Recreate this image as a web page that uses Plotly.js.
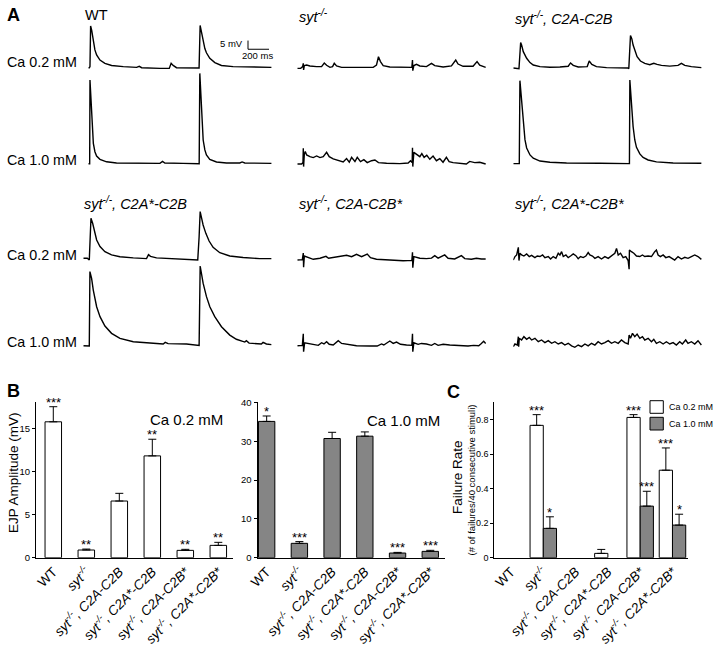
<!DOCTYPE html>
<html><head><meta charset="utf-8">
<script src="https://cdn.plot.ly/plotly-3.0.1.min.js"></script>
<style>html,body{margin:0;padding:0;background:#fff}#chart{width:714px;height:655px}</style>
</head><body><div id="chart"></div>
<script>
// ===== Panel A: EJP traces, time (ms) / potential (mV above baseline) =====
const wt02_t = [0,10,16,22,32,48,63,79,111,158,222,333,460,485,508,682,771,789,808,840,935,1046,1055,1065,1078,1094,1110,1125,1157,1205,1268,1379,1506,1569,1600,1744];
const wt02_v = [0,0,0.6,24,21.6,15,10.2,7.3,4.4,2.5,1.3,0.6,0.2,0.8,0,-0.4,-0.4,2.5,1.3,0,-0.2,-0.2,-0.2,24.3,20.7,15,11,8.6,5.4,2.9,1.3,0.6,0.4,0.6,0.4,0.2];
const wt10_t = [0,10,13,16,25,35,48,63,79,111,174,269,428,682,707,729,903,1046,1056,1062,1071,1081,1094,1110,1125,1157,1221,1316,1443,1465,1490,1744];
const wt10_v = [0,0,0,48.1,36.6,21.3,11.7,6.9,4.4,2.5,1.1,0.4,0.2,0.2,1.3,0.4,0.2,0,0,51.9,38.5,23.2,13.6,7.9,5,2.5,1,0.4,0.4,1,0.4,0.2];
const syt02_t = [0,32,51,57,60,67,89,120,184,231,257,279,311,336,352,374,422,565,723,754,773,792,818,881,1040,1091,1097,1100,1110,1135,1167,1230,1278,1309,1389,1468,1509,1531,1579,1674,1712,1737,1794];
const syt02_v = [-0.8,-0.8,0.2,2.1,-1.7,0.8,1.1,0.6,0.2,0.2,2.3,1,-0.2,0.2,2.1,0.6,-0.2,-0.4,-0.2,1.1,5.9,3.1,0.8,0,0,-0.2,4,-2.1,0.8,1.5,0.6,0.2,2.1,0.8,0,0.6,4,1.7,0.4,0.4,3.1,1.1,-0.2];
const syt10_t = [0,41,54,57,60,67,76,89,120,152,184,216,247,279,304,342,390,437,469,495,517,549,571,602,634,666,707,739,773,850,976,1056,1078,1094,1097,1100,1110,1135,1167,1186,1208,1233,1262,1293,1325,1357,1388,1420,1446,1484,1563,1610,1642,1690,1737,1794];
const syt10_v = [-0.4,-0.4,0.4,8.6,-1.9,5.4,6.7,4.8,3.8,3.3,4.2,3.3,3.8,6.3,3.8,2.5,1.5,0.8,2.7,0.6,3.4,1,3.4,1,2.1,0.4,1.5,1.9,0.4,0,-0.2,0.2,1.5,0.4,9,-1.9,6.3,5.2,3.8,5.6,3.4,4.6,2.3,4.2,1.5,2.7,0.6,3.4,1,0.4,0,-0.4,1.1,0.4,0.6,-0.4];
const ab02_t = [0,48,54,70,79,95,127,159,190,254,349,444,523,545,571,618,704,723,748,792,888,1090,1100,1116,1129,1141,1157,1179,1211,1252,1300,1338,1369,1411,1490,1569,1601,1633,1696,1791];
const ab02_v = [0,0,-0.4,14.6,13.2,9.4,5.6,3.1,1.7,0.8,0.4,0.6,1,2.9,1.5,0.6,0.8,4,2.1,0.8,0.2,0,-0.4,18.6,16.7,13.2,9.8,6.5,4,2.7,1.9,2.7,2.1,1.5,1.1,1.5,2.7,1.5,0.8,0.2];
const ab10_t = [0,51,57,63,73,82,95,111,127,159,190,254,349,507,824,1100,1106,1110,1119,1129,1141,1157,1173,1205,1236,1284,1363,1522,1791];
const ab10_v = [-0.2,-0.2,-0.2,47.5,40.2,30.6,21.3,13.6,8.8,4.8,2.9,1.3,0.6,0.2,0,-0.2,-0.2,47.9,40.2,30.6,21.1,13.4,9.2,5.4,3.4,1.9,0.8,0.2,0];
const asb02_t = [0,38,57,63,73,89,105,127,159,206,269,349,476,602,621,640,697,856,983,1090,1103,1113,1125,1141,1167,1198,1236,1300,1395,1522,1680,1791];
const asb02_v = [0.6,0.6,-0.4,11.1,23.6,20.7,15.9,11.1,7.3,4.4,2.5,1.5,0.8,0.4,2.7,1.7,0.8,0.2,-0.2,-0.4,13,27.4,24.1,19.7,14.9,10.5,6.9,3.8,1.9,1,0.4,0.4];
const asb10_t = [0,51,57,63,79,95,127,159,206,269,349,476,634,761,780,808,983,1090,1103,1113,1125,1141,1173,1205,1252,1316,1395,1458,1538,1553,1579,1696,1712,1744,1791];
const asb10_v = [-0.4,-0.4,-0.6,42.2,38.3,31.6,22,16.3,10.9,6.7,3.8,1.9,1,0.6,1.5,0.8,0.6,-0.2,-0.2,45.4,41.2,35.5,27.8,22,16.3,10.5,5.7,3.3,1.7,2.5,1.1,0.6,1.5,0.6,0.2];
const abs02_t = [0,48,57,60,67,105,152,216,254,273,298,374,469,517,564,612,666,697,754,881,1008,1091,1097,1100,1110,1167,1230,1278,1309,1341,1404,1436,1499,1563,1595,1658,1706,1753,1794];
const abs02_v = [0,0.2,4,-4.2,2.3,1.3,0.4,1,1.7,2.1,1,1.9,2.7,1.9,3.3,1.9,3.4,1.3,0.4,0,-0.4,-0.2,4.4,-4.4,1.9,1,0.8,1.1,2.5,1.1,2.9,1,0.6,2.5,0.8,0.4,1,0.6,0.6];
const abs10_t = [0,48,57,60,70,120,159,200,231,254,279,304,342,390,422,469,564,691,761,802,824,881,913,945,983,1040,1091,1097,1100,1110,1151,1182,1230,1278,1309,1341,1389,1452,1531,1626,1680,1728,1753,1775,1794];
const abs10_v = [0,0.2,6.9,-3.4,1.7,1,0.8,0.2,1.7,1,2.3,0.8,0.4,2.9,1.3,0.8,0,-0.2,-0.2,1,0.4,2.7,1.3,2.1,0.8,0.4,0.2,6.9,-3.4,1.7,0.8,1.3,1,0.2,1.3,0.2,0.8,0.4,0,-0.2,0.2,0,1.3,2.5,1.3];
const asbs02_t = [0,16,32,48,54,63,79,101,127,152,174,206,228,254,279,301,333,355,380,406,428,444,460,476,501,523,545,571,596,618,640,666,691,713,729,754,777,808,840,872,904,935,967,983,999,1021,1046,1071,1094,1103,1106,1125,1148,1173,1205,1230,1252,1284,1316,1347,1363,1379,1401,1427,1452,1484,1506,1537,1569,1601,1633,1664,1696,1728,1759,1791];
const asbs02_v = [-1,1,1.9,6.3,-1.3,2.9,1.9,1.3,2.5,1,1.7,0.4,1.3,1,1.9,0.4,1,-0.4,1,0,2.9,1.9,3.8,1,1.9,0.4,1.3,2.5,1.5,-0.2,1,0.4,1.3,3.3,1.9,1.3,0,1,-0.4,1,0,1.3,2.9,5.7,1.9,2.9,0.4,1,-1.3,-6.3,4.8,3.8,2.9,1.3,1,1.9,1,1.3,1,3.8,4.8,1.9,1,1.9,0.4,1,0,-1,1,-0.4,0.6,0,1,1.9,1,-0.6];
const asbs10_t = [0,16,38,48,51,57,79,101,127,152,174,206,238,269,301,333,365,396,428,460,491,523,555,586,618,650,682,713,745,777,808,840,872,904,935,967,999,1030,1062,1094,1103,1116,1135,1157,1179,1205,1230,1252,1284,1316,1338,1363,1395,1427,1458,1490,1522,1553,1585,1610,1642,1664,1696,1728,1759,1791];
const asbs10_v = [-1.5,0,-0.6,4.2,-1.5,3.3,2.3,4.2,2.7,3.8,2.3,3.3,1.3,2.3,0.8,1.9,0.4,1.3,0,0.8,-0.6,0.4,-1.1,-1.9,-0.6,-1.5,0,-1.1,0.4,-0.6,1.3,0,0.8,1.9,0.4,1.3,0.4,2.3,0.8,0,5.2,3.3,6.1,4.2,5.7,3.3,4.2,2.3,3.3,1.3,2.7,0.4,1.3,0,1.3,0,0.8,-0.6,1.3,0,2.3,0.4,1.3,0,1.9,-0.6];

const traceTitles = ['WT', '<i>syt<sup>-/-</sup></i>', '<i>syt<sup>-/-</sup>, C2A-C2B</i>',
  '<i>syt<sup>-/-</sup>, C2A*-C2B</i>', '<i>syt<sup>-/-</sup>, C2A-C2B*</i>', '<i>syt<sup>-/-</sup>, C2A*-C2B*</i>'];
const caLabels = ['Ca 0.2 mM', 'Ca 1.0 mM'];
// scale bar: 200 ms, 5 mV
const scaleT = 200, scaleV = 5, scaleT0 = 1521, scaleV0 = 10.6;

// ===== Panels B & C =====
const genotypes = ['WT', '<i>syt<sup>-/-</sup></i>', '<i>syt<sup>-/-</sup>, C2A-C2B</i>',
  '<i>syt<sup>-/-</sup>, C2A*-C2B</i>', '<i>syt<sup>-/-</sup>, C2A-C2B*</i>', '<i>syt<sup>-/-</sup>, C2A*-C2B*</i>'];
const ejp02 = [15.75, 0.89, 6.57, 11.8, 0.85, 1.43];
const ejp02Err = [1.75, 0.11, 0.89, 1.93, 0.12, 0.35];
const ejp10 = [35.1, 3.7, 30.7, 31.3, 1.2, 1.63];
const ejp10Err = [1.4, 0.45, 1.6, 1.1, 0.17, 0.27];
const fail02 = [0, 0.767, 0, 0.025, 0.813, 0.507];
const fail02Err = [0, 0.062, 0, 0.023, 0.016, 0.129];
const fail10 = [0, 0.17, 0, 0, 0.299, 0.189];
const fail10Err = [0, 0.067, 0, 0, 0.086, 0.063];
const ejp02Stars = ['***', '**', '', '**', '**', '**'];
const ejp10Stars = ['*', '***', '', '', '***', '***'];
const fail02Stars = ['', '***', '', '', '***', '***'];
const fail10Stars = ['', '*', '', '', '***', '*'];

// ===== layout helpers =====
const W = 714, H = 655;
const FONT = 'Liberation Sans, Arial, sans-serif';
const PX_PER_MS = 0.105, PX_PER_MV = 1.74, SPAN_MS = 1800;
const px = x => x / W, py = y => 1 - y / H;
const GRAY = '#858585';

const sets = [
  {t: wt02_t, v: wt02_v, left: 88.3, base: 67.7, row: 0},
  {t: wt10_t, v: wt10_v, left: 88.3, base: 163.7, row: 1},
  {t: syt02_t, v: syt02_v, left: 297.3, base: 67, row: 0},
  {t: syt10_t, v: syt10_v, left: 297.3, base: 163.3, row: 1},
  {t: ab02_t, v: ab02_v, left: 513.3, base: 68, row: 0},
  {t: ab10_t, v: ab10_v, left: 513.3, base: 163.3, row: 1},
  {t: asb02_t, v: asb02_v, left: 83.3, base: 259.3, row: 2},
  {t: asb10_t, v: asb10_v, left: 83.3, base: 345, row: 3},
  {t: abs02_t, v: abs02_v, left: 297.3, base: 260, row: 2},
  {t: abs10_t, v: abs10_v, left: 297.3, base: 345.7, row: 3},
  {t: asbs02_t, v: asbs02_v, left: 513.3, base: 258.3, row: 2},
  {t: asbs10_t, v: asbs10_v, left: 513.3, base: 344, row: 3}
];
const rowRange = [[-3, 26], [-4, 54], [-8, 30], [-6, 48]];

const data = [];
const layout = {
  width: W, height: H, margin: {l: 0, r: 0, t: 0, b: 0},
  paper_bgcolor: '#fff', plot_bgcolor: 'rgba(0,0,0,0)',
  showlegend: false, barmode: 'overlay',
  font: {family: FONT, color: '#000'},
  annotations: [], shapes: []
};
const ax = n => (n === 1 ? '' : String(n));

sets.forEach((s, i) => {
  const n = i + 1;
  const [lo, hi] = rowRange[s.row];
  data.push({type: 'scatter', mode: 'lines', x: s.t, y: s.v, xaxis: 'x' + ax(n), yaxis: 'y' + ax(n),
    line: {color: '#000', width: 1.4}, hoverinfo: 'skip'});
  layout['xaxis' + ax(n)] = {domain: [px(s.left), px(s.left + SPAN_MS * PX_PER_MS)], range: [0, SPAN_MS],
    visible: false, fixedrange: true, anchor: 'y' + ax(n)};
  layout['yaxis' + ax(n)] = {domain: [py(s.base - lo * PX_PER_MV), py(s.base - hi * PX_PER_MV)], range: [lo, hi],
    visible: false, fixedrange: true, anchor: 'x' + ax(n)};
});

// scale bar in WT 0.2 mM subplot
layout.shapes.push({type: 'line', xref: 'x', yref: 'y', x0: scaleT0, x1: scaleT0, y0: scaleV0, y1: scaleV0 + scaleV, line: {color: '#000', width: 1}});
layout.shapes.push({type: 'line', xref: 'x', yref: 'y', x0: scaleT0, x1: scaleT0 + scaleT, y0: scaleV0, y1: scaleV0, line: {color: '#000', width: 1}});

function ann(text, x, y, opts) {
  layout.annotations.push(Object.assign({text, x: px(x), y: py(y), xref: 'paper', yref: 'paper',
    showarrow: false, xanchor: 'left', yanchor: 'middle', font: {family: FONT, size: 14, color: '#000'}}, opts || {}));
}
ann(scaleV + ' mV', 245, 43.7, {xanchor: 'right', font: {family: FONT, size: 9.5}});
ann(scaleT + ' ms', 257.5, 56, {xanchor: 'center', font: {family: FONT, size: 9.5}});

// panel A labels
ann('<b>A</b>', 13, 15, {xanchor: 'center', font: {family: FONT, size: 18}});
ann('<b>B</b>', 13.3, 391, {xanchor: 'center', font: {family: FONT, size: 18}});
ann('<b>C</b>', 453, 391.5, {xanchor: 'center', font: {family: FONT, size: 18}});
[[62, 0], [159.5, 1], [255, 0], [341.7, 1]].forEach(([y, k]) => ann(caLabels[k], 5, y, {font: {family: FONT, size: 14.3}}));
const titlePos = [[82.5, 15], [297, 16], [513, 18.3], [81.5, 203.3], [297, 203.3], [513, 203.3]];
traceTitles.forEach((t, i) => ann(t, titlePos[i][0], titlePos[i][1], {font: {family: FONT, size: 14.5}}));

// ===== bar chart axes =====
const barY = [py(557.7), py(402.4)];
const tickFont = {family: FONT, size: 13.5, color: '#000'};
function xAx(l, r, lo, hi, anchor) {
  return {domain: [px(l), px(r)], range: [lo, hi], type: 'category', anchor, showline: true, linecolor: '#000', linewidth: 1,
    ticks: '', tickangle: -45, tickfont: tickFont, showgrid: false, zeroline: false, fixedrange: true};
}
function yAx(range, dtick, anchor, size) {
  return {domain: barY, range, dtick, tick0: 0, anchor, showline: true, linecolor: '#000', linewidth: 1, ticks: 'outside',
    ticklen: 3, tickcolor: '#000', tickwidth: 1, tickangle: 0, tickfont: {family: FONT, size, color: '#000'}, showgrid: false,
    zeroline: false, fixedrange: true};
}
layout.xaxis13 = xAx(36, 233, -0.524, 5.445, 'y13');
layout.yaxis13 = yAx([0, 18], 5, 'x13', 9.5);
layout.xaxis14 = xAx(257.5, 445, -0.28, 5.45, 'y14');
layout.yaxis14 = yAx([0, 40], 10, 'x14', 9.5);
layout.xaxis15 = xAx(494.3, 688.3, -0.517, 5.49, 'y15');
layout.yaxis15 = yAx([0, 0.9], 0.2, 'x15', 9);

const zeros = genotypes.map(() => 0);
const shown = arr => arr.map(v => (v === 0 ? null : v));   // a zero rate draws no bar
const errBar = (arr) => ({type: 'data', symmetric: false, array: arr, arrayminus: zeros, color: '#000', thickness: 1, width: 4});
const BW = 0.5, CW = 0.41;
data.push({type: 'bar', x: genotypes, y: ejp02, width: BW, xaxis: 'x13', yaxis: 'y13', marker: {color: '#fff', line: {color: '#000', width: 1}}, error_y: errBar(ejp02Err), hoverinfo: 'skip'});
data.push({type: 'bar', x: genotypes, y: ejp10, width: BW, xaxis: 'x14', yaxis: 'y14', marker: {color: GRAY, line: {color: '#000', width: 1}}, error_y: errBar(ejp10Err), hoverinfo: 'skip'});
data.push({type: 'bar', x: genotypes, y: shown(fail02), width: CW, offset: -CW, xaxis: 'x15', yaxis: 'y15', marker: {color: '#fff', line: {color: '#000', width: 1}}, error_y: errBar(fail02Err), hoverinfo: 'skip'});
data.push({type: 'bar', x: genotypes, y: shown(fail10), width: CW, offset: 0, xaxis: 'x15', yaxis: 'y15', marker: {color: GRAY, line: {color: '#000', width: 1}}, error_y: errBar(fail10Err), hoverinfo: 'skip'});

function stars(labels, vals, errs, xref, yref, dx) {
  labels.forEach((s, i) => {
    if (!s) return;
    layout.annotations.push({text: s, x: i + dx, y: vals[i] + errs[i], xref, yref, showarrow: false,
      xanchor: 'center', yanchor: 'bottom', yshift: -5, font: {family: FONT, size: 13, color: '#000'}});
  });
}
stars(ejp02Stars, ejp02, ejp02Err, 'x13', 'y13', 0);
stars(ejp10Stars, ejp10, ejp10Err, 'x14', 'y14', 0);
stars(fail02Stars, fail02, fail02Err, 'x15', 'y15', -CW / 2);
stars(fail10Stars, fail10, fail10Err, 'x15', 'y15', CW / 2);

ann(caLabels[0], 148, 419.3, {font: {family: FONT, size: 15}});
ann(caLabels[1], 365, 420, {font: {family: FONT, size: 15}});
ann('EJP Amplitude (mV)', 13, 473, {xanchor: 'center', textangle: -90, font: {family: FONT, size: 13.5}});
ann('Failure Rate', 457, 477, {xanchor: 'center', textangle: -90, font: {family: FONT, size: 13.5}});
ann('(# of failures/40 consecutive stimuli)', 470.5, 480, {xanchor: 'center', textangle: -90, font: {family: FONT, size: 9.5}});

// legend for panel C
layout.shapes.push({type: 'rect', xref: 'paper', yref: 'paper', x0: px(650), x1: px(663.3), y0: py(413.3), y1: py(400.7), fillcolor: '#fff', line: {color: '#000', width: 1}});
layout.shapes.push({type: 'rect', xref: 'paper', yref: 'paper', x0: px(650), x1: px(663.3), y0: py(430), y1: py(417.3), fillcolor: GRAY, line: {color: '#000', width: 1}});
ann(caLabels[0], 666.5, 407, {font: {family: FONT, size: 9}});
ann(caLabels[1], 666.5, 423.7, {font: {family: FONT, size: 9}});

Plotly.newPlot('chart', data, layout, {displayModeBar: false, staticPlot: true});
</script></body></html>
